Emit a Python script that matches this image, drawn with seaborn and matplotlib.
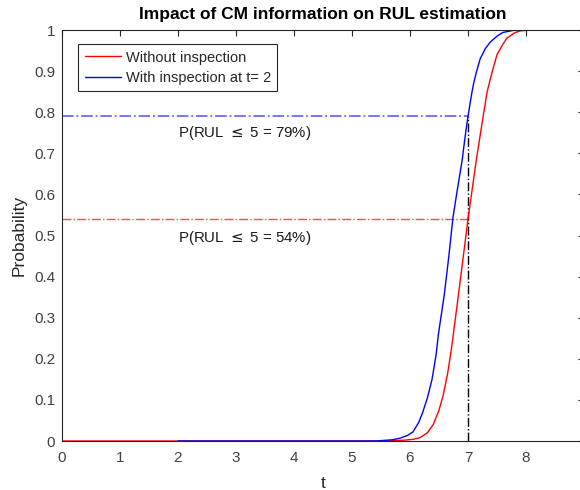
import matplotlib
matplotlib.use("Agg")
import matplotlib.pyplot as plt
import seaborn as sns
import pandas as pd

# ---- data ----
t_without = [0, 5.6, 5.9, 6.05, 6.17, 6.3, 6.4, 6.5, 6.57, 6.65, 6.72, 6.83, 6.92, 7.0,
             7.08, 7.15, 7.25, 7.33, 7.42, 7.5, 7.6, 7.67, 7.8, 7.9, 8.1]
p_without = [0, 0, 0.002, 0.004, 0.008, 0.02, 0.04, 0.075, 0.11, 0.165, 0.23, 0.35, 0.45, 0.54,
             0.62, 0.69, 0.78, 0.85, 0.90, 0.94, 0.965, 0.98, 0.993, 0.998, 1.0]
t_with = [2, 5.4, 5.7, 5.83, 5.95, 6.05, 6.15, 6.22, 6.3, 6.38, 6.45, 6.49, 6.59, 6.67, 6.74,
          6.82, 6.9, 6.95, 7.0, 7.04, 7.07, 7.1, 7.14, 7.21, 7.3, 7.38, 7.5, 7.6, 7.78, 8.05]
p_with = [0, 0, 0.003, 0.007, 0.013, 0.022, 0.045, 0.07, 0.105, 0.15, 0.21, 0.26, 0.355, 0.45, 0.543,
          0.615, 0.684, 0.74, 0.79, 0.825, 0.85, 0.872, 0.895, 0.93, 0.955, 0.97, 0.985, 0.994, 0.999, 1.0]
series_names = ["Without inspection", "With inspection at t= 2"]
t_eval = 7
p_eval_without = 0.54
p_eval_with = 0.79
label_with = "P(RUL $\\leq$ 5 = 79%)"
label_without = "P(RUL $\\leq$ 5 = 54%)"
x_ticks = list(range(0, 10))
y_ticks = [0, 0.1, 0.2, 0.3, 0.4, 0.5, 0.6, 0.7, 0.8, 0.9, 1]
y_tick_labels = ["0", "0.1", "0.2", "0.3", "0.4", "0.5", "0.6", "0.7", "0.8", "0.9", "1"]

df = pd.concat([
    pd.DataFrame({"t": t_without, "p": p_without, "series": series_names[0]}),
    pd.DataFrame({"t": t_with, "p": p_with, "series": series_names[1]}),
])

sns.set_theme(style="white")
plt.rcParams["font.family"] = ["Liberation Sans", "DejaVu Sans"]
plt.rcParams["mathtext.fontset"] = "dejavusans"

fig = plt.figure(figsize=(5.8, 4.9), dpi=100)
ax = fig.add_axes([62 / 580, 1 - 441 / 490, 522 / 580, 411 / 490])

# reference lines
ax.plot([0, t_eval], [p_eval_with, p_eval_with], linestyle="-.", color="#6b6bff", lw=1.3)
ax.plot([0, t_eval], [p_eval_without, p_eval_without], linestyle="-.", color="#ff4a4a", lw=1.0)
ax.plot([t_eval, t_eval], [0, p_eval_with], linestyle="-.", color="black", lw=1.0)

sns.lineplot(data=df, x="t", y="p", hue="series", hue_order=series_names,
             palette=["#ff0000", "#0000ff"], linewidth=1.0, ax=ax, sort=False,
             estimator=None)

ax.text(2.0, 0.75, label_with, fontsize=10.8, va="center", ha="left", color="#1a1a1a")
ax.text(2.0, 0.494, label_without, fontsize=10.8, va="center", ha="left", color="#1a1a1a")

ax.set_xlim(0, 9)
ax.set_ylim(0, 1)
ax.set_xticks(x_ticks)
ax.set_yticks(y_ticks)
ax.set_yticklabels(y_tick_labels)
ax.tick_params(direction="in", length=4, width=0.8, top=True, right=True,
               labelsize=11, labelcolor="#404040", colors="#262626")
ax.tick_params(axis="x", pad=7)
ax.tick_params(axis="y", pad=5)
for s in ax.spines.values():
    s.set_color("#262626")
    s.set_linewidth(0.8)

ax.set_xlabel("t", fontsize=12.5, color="#262626", labelpad=8)
ax.set_ylabel("Probability", fontsize=12.5, color="#262626", labelpad=5)
ax.set_title("Impact of CM information on RUL estimation", fontsize=12.5,
             fontweight="bold", color="black", pad=8)

leg = ax.legend(loc="upper left", bbox_to_anchor=(0.031, 0.966), fontsize=10.5,
                frameon=True, fancybox=False, edgecolor="#262626", framealpha=1,
                handlelength=2.5, handletextpad=0.3, borderpad=0.45, labelspacing=0.42,
                borderaxespad=0)
leg.get_frame().set_linewidth(0.8)
for txt in leg.get_texts():
    txt.set_color("#262626")

fig.savefig("out.png", dpi=100)
